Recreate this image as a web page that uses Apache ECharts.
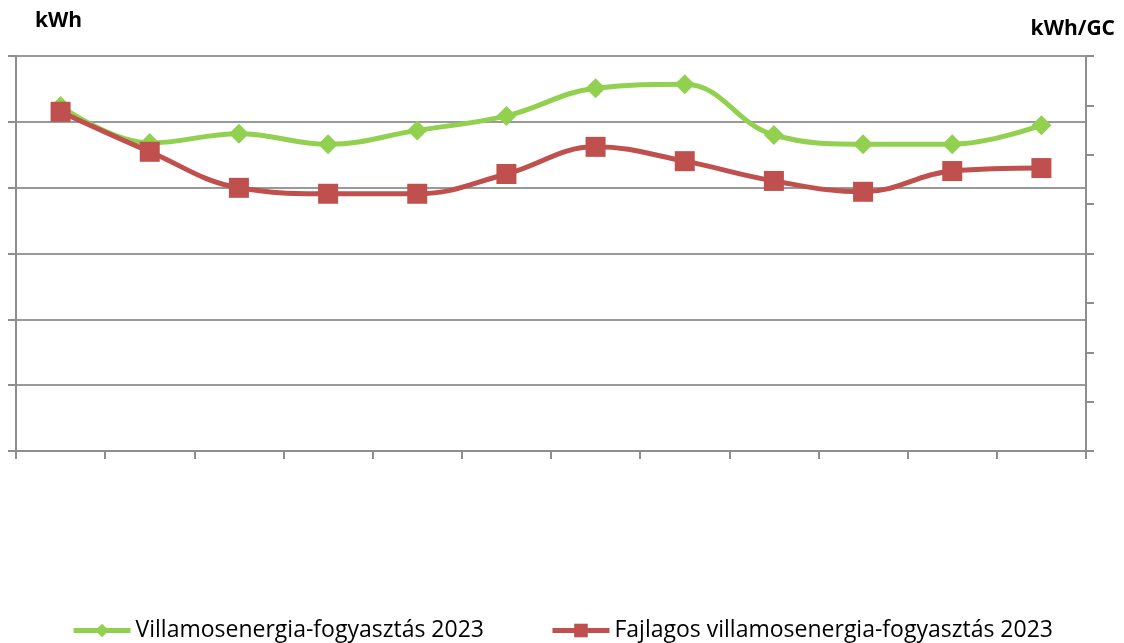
<!DOCTYPE html>
<html>
<head>
<meta charset="utf-8">
<title>Villamosenergia-fogyasztás 2023</title>
<script src="https://cdn.jsdelivr.net/npm/echarts@6/dist/echarts.min.js"></script>
<style>
  html, body { margin: 0; padding: 0; background: #fff; }
  #chart { width: 1124px; height: 643px; }
</style>
</head>
<body>
<div id="chart"></div>
<script>
// hónapok (a tengelyen nincs felirat)
const months = ['1', '2', '3', '4', '5', '6', '7', '8', '9', '10', '11', '12']
// bal tengely - kWh
const consumption = [52.4, 46.8, 48.2, 46.6, 48.7, 50.9, 55.1, 55.7, 48.0, 46.6, 46.6, 49.5]
// jobb tengely - kWh/GC
const specific = [6.87, 6.06, 5.33, 5.21, 5.21, 5.61, 6.16, 5.87, 5.47, 5.25, 5.67, 5.73]

const axisGrey = '#8e8e8e'

const chart = echarts.init(document.getElementById('chart'))

chart.setOption({
  animation: false,
  color: ['#92d050', '#c0504d'],
  textStyle: { fontFamily: 'Open Sans' },
  title: [
    {
      text: 'kWh',
      left: 30,
      top: 6,
      textStyle: { fontSize: 21, fontWeight: 'bold', color: '#000' },
    },
    {
      text: 'kWh/GC',
      right: 4,
      top: 14,
      textStyle: { fontSize: 21, fontWeight: 'bold', color: '#000' },
    },
  ],
  grid: {
    left: 16,
    right: 38,
    top: 56,
    bottom: 192,
  },
  legend: {
    top: 614,
    left: 'center',
    itemWidth: 57,
    itemHeight: 17,
    itemGap: 66,
    lineStyle: { width: 5 },
    textStyle: { fontSize: 23, color: '#000' },
    data: ['Villamosenergia-fogyasztás 2023', 'Fajlagos villamosenergia-fogyasztás 2023'],
  },
  xAxis: {
    type: 'category',
    boundaryGap: true,
    data: months,
    axisLine: { lineStyle: { color: axisGrey, width: 2 } },
    axisTick: { show: true, length: 8, lineStyle: { color: axisGrey, width: 2 } },
    axisLabel: { show: false },
  },
  yAxis: [
    {
      type: 'value',
      min: 0,
      max: 60,
      interval: 10,
      axisLine: { show: true, lineStyle: { color: axisGrey, width: 2 } },
      axisTick: { show: true, length: 8, lineStyle: { color: axisGrey, width: 2 } },
      axisLabel: { show: false },
      splitLine: { lineStyle: { color: '#999', width: 2 } },
    },
    {
      type: 'value',
      min: 0,
      max: 8,
      interval: 1,
      axisLine: { show: true, lineStyle: { color: axisGrey, width: 2 } },
      axisTick: { show: true, length: 8, lineStyle: { color: axisGrey, width: 2 } },
      axisLabel: { show: false },
      splitLine: { show: false },
    },
  ],
  series: [
    {
      name: 'Villamosenergia-fogyasztás 2023',
      type: 'line',
      yAxisIndex: 0,
      smooth: 0.4,
      symbol: 'diamond',
      symbolSize: 20,
      lineStyle: { width: 5 },
      data: consumption,
    },
    {
      name: 'Fajlagos villamosenergia-fogyasztás 2023',
      type: 'line',
      yAxisIndex: 1,
      smooth: 0.4,
      symbol: 'rect',
      symbolSize: 20,
      lineStyle: { width: 5 },
      data: specific,
    },
  ],
})
</script>
</body>
</html>
